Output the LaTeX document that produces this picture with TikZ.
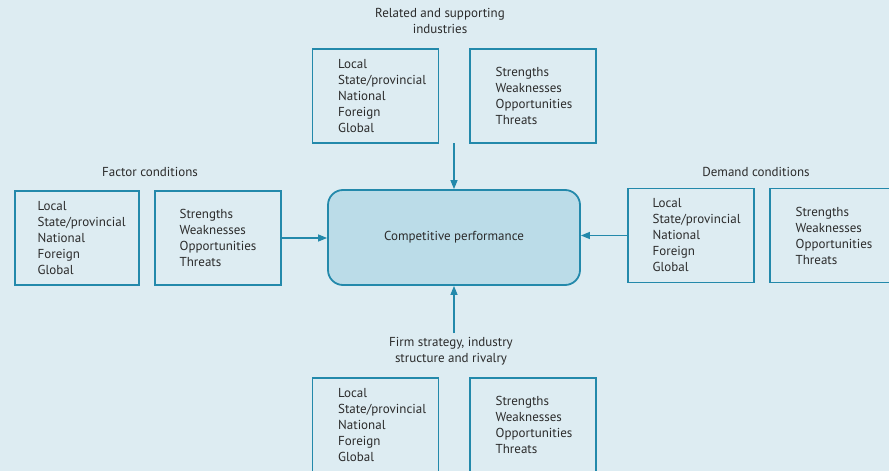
\documentclass[tikz,border=0pt]{standalone}
\usepackage{fontspec}
\setmainfont{PT Sans}
\usetikzlibrary{arrows.meta}
\definecolor{bgcol}{HTML}{DDECF2}
\definecolor{edgecol}{HTML}{2389AB}
\definecolor{corefill}{HTML}{BBDCE8}
\definecolor{txtcol}{HTML}{2B2B2B}
\begin{document}
\begin{tikzpicture}[x=1pt,y=-1pt,
  every node/.style={text=txtcol,font=\fontsize{13}{16}\selectfont},
  framebox/.style={draw=edgecol,line width=1.1pt,minimum width=126pt,minimum height=94pt,inner sep=0pt},
  listtext/.style={anchor=west,align=left,inner sep=0pt},
  heading/.style={align=center,inner sep=0pt},
  core/.style={draw=edgecol,fill=corefill,line width=1.8pt,rounded corners=15pt,minimum width=252pt,minimum height=95pt},
  link/.style={draw=edgecol,line width=1.2pt,-{Triangle[length=9pt,width=7pt]}}]
\useasboundingbox[fill=bgcol] (0,0) rectangle (889,471);

% central node
\node[core] (cp) at (454,237.5) {Competitive performance};

% related and supporting industries (top)
\node[heading] (topT) at (440,21) {Related and supporting\\industries};
\node[framebox] (topL) at (375.5,96) {};
\node[framebox] (topR) at (533,96) {};
\node[listtext] (topLt) at ([xshift=26pt]topL.west) {Local\\State/provincial\\National\\Foreign\\Global};
\node[listtext] (topRt) at ([xshift=26pt]topR.west) {Strengths\\Weaknesses\\Opportunities\\Threats};

% factor conditions (left)
\node[heading] (lefT) at (150,172) {Factor conditions};
\node[framebox,minimum width=124pt] (lefL) at (77,238) {};
\node[framebox] (lefR) at (218,238) {};
\node[listtext] (lefLt) at ([xshift=23pt]lefL.west) {Local\\State/provincial\\National\\Foreign\\Global};
\node[listtext] (lefRt) at ([xshift=25pt]lefR.west) {Strengths\\Weaknesses\\Opportunities\\Threats};

% demand conditions (right)
\node[heading] (rigT) at (756,172) {Demand conditions};
\node[framebox] (rigL) at (691,235.5) {};
\node[framebox] (rigR) at (833,235.5) {};
\node[listtext] (rigLt) at ([xshift=25pt]rigL.west) {Local\\State/provincial\\National\\Foreign\\Global};
\node[listtext] (rigRt) at ([xshift=26pt]rigR.west) {Strengths\\Weaknesses\\Opportunities\\Threats};

% firm strategy, structure and rivalry (bottom)
\node[heading] (botT) at (451,351) {Firm strategy, industry\\structure and rivalry};
\node[framebox] (botL) at (375.5,425) {};
\node[framebox] (botR) at (533,425) {};
\node[listtext] (botLt) at ([xshift=26pt]botL.west) {Local\\State/provincial\\National\\Foreign\\Global};
\node[listtext] (botRt) at ([xshift=26pt]botR.west) {Strengths\\Weaknesses\\Opportunities\\Threats};

% arrows into the central node
\coordinate (topA) at (454,143);
\coordinate (botA) at (454,333);
\draw[link] (topA) -- (cp.north -| topA);
\draw[link] (botA) -- (cp.south -| botA);
\draw[link] (lefR.east) -- (lefR.east -| cp.west);
\draw[link] (rigL.west) -- (rigL.west -| cp.east);
\end{tikzpicture}
\end{document}
